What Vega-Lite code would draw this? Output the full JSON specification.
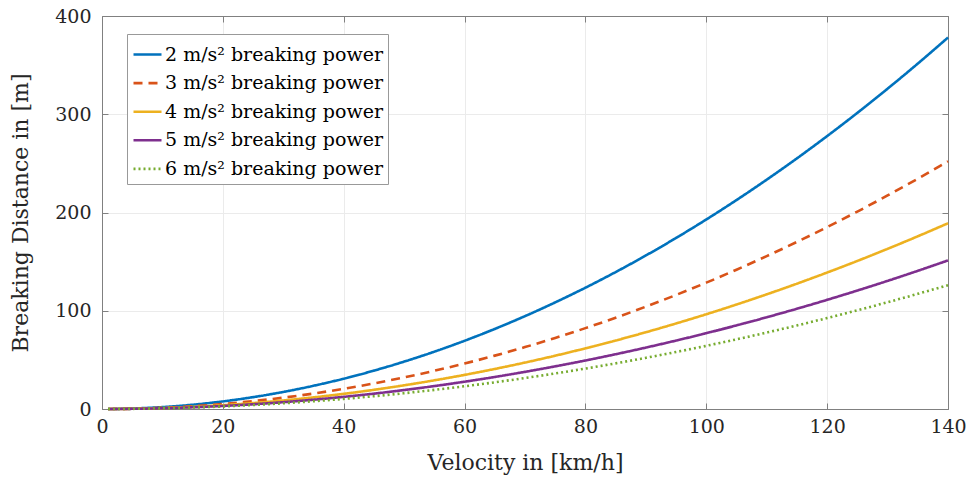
{
  "$schema": "https://vega.github.io/schema/vega-lite/v6.json",
  "autosize": {"type": "none"},
  "width": 846,
  "height": 393,
  "padding": {"left": 102, "top": 16, "right": 23, "bottom": 70},
  "background": "white",
  "config": {
    "font": "DejaVu Serif",
    "view": {"stroke": "#808080", "strokeWidth": 1},
    "axis": {
      "labelFont": "DejaVu Serif",
      "titleFont": "DejaVu Serif",
      "labelFontSize": 19,
      "titleFontSize": 22,
      "titleFontWeight": "normal",
      "labelColor": "#262626",
      "titleColor": "#262626",
      "domainColor": "#808080",
      "tickColor": "#808080",
      "gridColor": "#ebebeb",
      "tickSize": -6,
      "labelFlush": false
    }
  },
  "data": {
    "values": [
      {"v": 1, "2 m/s² breaking power": 0.019, "3 m/s² breaking power": 0.013, "4 m/s² breaking power": 0.010, "5 m/s² breaking power": 0.008, "6 m/s² breaking power": 0.006},
      {"v": 5, "2 m/s² breaking power": 0.48, "3 m/s² breaking power": 0.32, "4 m/s² breaking power": 0.24, "5 m/s² breaking power": 0.19, "6 m/s² breaking power": 0.16},
      {"v": 10, "2 m/s² breaking power": 1.93, "3 m/s² breaking power": 1.29, "4 m/s² breaking power": 0.96, "5 m/s² breaking power": 0.77, "6 m/s² breaking power": 0.64},
      {"v": 15, "2 m/s² breaking power": 4.34, "3 m/s² breaking power": 2.89, "4 m/s² breaking power": 2.17, "5 m/s² breaking power": 1.74, "6 m/s² breaking power": 1.45},
      {"v": 20, "2 m/s² breaking power": 7.72, "3 m/s² breaking power": 5.14, "4 m/s² breaking power": 3.86, "5 m/s² breaking power": 3.09, "6 m/s² breaking power": 2.57},
      {"v": 25, "2 m/s² breaking power": 12.06, "3 m/s² breaking power": 8.04, "4 m/s² breaking power": 6.03, "5 m/s² breaking power": 4.82, "6 m/s² breaking power": 4.02},
      {"v": 30, "2 m/s² breaking power": 17.36, "3 m/s² breaking power": 11.57, "4 m/s² breaking power": 8.68, "5 m/s² breaking power": 6.94, "6 m/s² breaking power": 5.79},
      {"v": 35, "2 m/s² breaking power": 23.63, "3 m/s² breaking power": 15.75, "4 m/s² breaking power": 11.82, "5 m/s² breaking power": 9.45, "6 m/s² breaking power": 7.88},
      {"v": 40, "2 m/s² breaking power": 30.86, "3 m/s² breaking power": 20.58, "4 m/s² breaking power": 15.43, "5 m/s² breaking power": 12.35, "6 m/s² breaking power": 10.29},
      {"v": 45, "2 m/s² breaking power": 39.06, "3 m/s² breaking power": 26.04, "4 m/s² breaking power": 19.53, "5 m/s² breaking power": 15.63, "6 m/s² breaking power": 13.02},
      {"v": 50, "2 m/s² breaking power": 48.23, "3 m/s² breaking power": 32.15, "4 m/s² breaking power": 24.11, "5 m/s² breaking power": 19.29, "6 m/s² breaking power": 16.08},
      {"v": 55, "2 m/s² breaking power": 58.35, "3 m/s² breaking power": 38.90, "4 m/s² breaking power": 29.18, "5 m/s² breaking power": 23.34, "6 m/s² breaking power": 19.45},
      {"v": 60, "2 m/s² breaking power": 69.44, "3 m/s² breaking power": 46.30, "4 m/s² breaking power": 34.72, "5 m/s² breaking power": 27.78, "6 m/s² breaking power": 23.15},
      {"v": 65, "2 m/s² breaking power": 81.50, "3 m/s² breaking power": 54.33, "4 m/s² breaking power": 40.75, "5 m/s² breaking power": 32.60, "6 m/s² breaking power": 27.17},
      {"v": 70, "2 m/s² breaking power": 94.52, "3 m/s² breaking power": 63.01, "4 m/s² breaking power": 47.26, "5 m/s² breaking power": 37.81, "6 m/s² breaking power": 31.51},
      {"v": 75, "2 m/s² breaking power": 108.51, "3 m/s² breaking power": 72.34, "4 m/s² breaking power": 54.25, "5 m/s² breaking power": 43.40, "6 m/s² breaking power": 36.17},
      {"v": 80, "2 m/s² breaking power": 123.46, "3 m/s² breaking power": 82.30, "4 m/s² breaking power": 61.73, "5 m/s² breaking power": 49.38, "6 m/s² breaking power": 41.15},
      {"v": 85, "2 m/s² breaking power": 139.37, "3 m/s² breaking power": 92.91, "4 m/s² breaking power": 69.69, "5 m/s² breaking power": 55.75, "6 m/s² breaking power": 46.46},
      {"v": 90, "2 m/s² breaking power": 156.25, "3 m/s² breaking power": 104.17, "4 m/s² breaking power": 78.13, "5 m/s² breaking power": 62.50, "6 m/s² breaking power": 52.08},
      {"v": 95, "2 m/s² breaking power": 174.09, "3 m/s² breaking power": 116.06, "4 m/s² breaking power": 87.05, "5 m/s² breaking power": 69.64, "6 m/s² breaking power": 58.03},
      {"v": 100, "2 m/s² breaking power": 192.90, "3 m/s² breaking power": 128.60, "4 m/s² breaking power": 96.45, "5 m/s² breaking power": 77.16, "6 m/s² breaking power": 64.30},
      {"v": 105, "2 m/s² breaking power": 212.67, "3 m/s² breaking power": 141.78, "4 m/s² breaking power": 106.34, "5 m/s² breaking power": 85.07, "6 m/s² breaking power": 70.89},
      {"v": 110, "2 m/s² breaking power": 233.41, "3 m/s² breaking power": 155.61, "4 m/s² breaking power": 116.71, "5 m/s² breaking power": 93.36, "6 m/s² breaking power": 77.80},
      {"v": 115, "2 m/s² breaking power": 255.11, "3 m/s² breaking power": 170.07, "4 m/s² breaking power": 127.56, "5 m/s² breaking power": 102.04, "6 m/s² breaking power": 85.04},
      {"v": 120, "2 m/s² breaking power": 277.78, "3 m/s² breaking power": 185.19, "4 m/s² breaking power": 138.89, "5 m/s² breaking power": 111.11, "6 m/s² breaking power": 92.59},
      {"v": 125, "2 m/s² breaking power": 301.41, "3 m/s² breaking power": 200.94, "4 m/s² breaking power": 150.70, "5 m/s² breaking power": 120.56, "6 m/s² breaking power": 100.47},
      {"v": 130, "2 m/s² breaking power": 326.00, "3 m/s² breaking power": 217.34, "4 m/s² breaking power": 163.00, "5 m/s² breaking power": 130.40, "6 m/s² breaking power": 108.67},
      {"v": 135, "2 m/s² breaking power": 351.56, "3 m/s² breaking power": 234.38, "4 m/s² breaking power": 175.78, "5 m/s² breaking power": 140.63, "6 m/s² breaking power": 117.19},
      {"v": 140, "2 m/s² breaking power": 378.09, "3 m/s² breaking power": 252.06, "4 m/s² breaking power": 189.04, "5 m/s² breaking power": 151.23, "6 m/s² breaking power": 126.03}
    ]
  },
  "transform": [
    {"fold": ["2 m/s² breaking power", "3 m/s² breaking power", "4 m/s² breaking power", "5 m/s² breaking power", "6 m/s² breaking power"], "as": ["series", "d"]}
  ],
  "layer": [
    {
      "mark": {"type": "line", "strokeWidth": 2.6, "interpolate": "monotone"},
      "encoding": {
        "x": {"field": "v", "type": "quantitative", "scale": {"domain": [0, 140], "nice": false, "zero": false},
          "axis": {"values": [0, 20, 40, 60, 80, 100, 120, 140], "title": "Velocity in [km/h]", "labelPadding": 14, "titlePadding": 16}},
        "y": {"field": "d", "type": "quantitative", "scale": {"domain": [0, 400], "nice": false, "zero": false},
          "axis": {"values": [0, 100, 200, 300, 400], "title": "Breaking Distance in [m]", "labelPadding": 17, "titlePadding": 22}},
        "color": {"field": "series", "type": "nominal",
          "scale": {"domain": ["2 m/s² breaking power", "3 m/s² breaking power", "4 m/s² breaking power", "5 m/s² breaking power", "6 m/s² breaking power"],
                    "range": ["#0072BD", "#D95319", "#EDB120", "#7E2F8E", "#77AC30"]},
          "legend": {"title": null, "orient": "none", "legendX": 25, "legendY": 18,
            "symbolType": "stroke", "symbolSize": 784, "symbolStrokeWidth": 2.6,
            "labelFont": "DejaVu Serif", "labelFontSize": 19, "labelColor": "#000000", "labelOffset": 2,
            "rowPadding": 2.6, "strokeColor": "#999999", "fillColor": "white", "padding": 5, "labelLimit": 400}},
        "strokeDash": {"field": "series", "type": "nominal",
          "scale": {"domain": ["2 m/s² breaking power", "3 m/s² breaking power", "4 m/s² breaking power", "5 m/s² breaking power", "6 m/s² breaking power"],
                    "range": [[1, 0], [9, 6], [1, 0], [1, 0], [2, 3]]},
          "legend": {"title": null, "orient": "none", "legendX": 25, "legendY": 18,
            "symbolType": "stroke", "symbolSize": 784, "symbolStrokeWidth": 2.6,
            "labelFont": "DejaVu Serif", "labelFontSize": 19, "labelColor": "#000000", "labelOffset": 2,
            "rowPadding": 2.6, "strokeColor": "#999999", "fillColor": "white", "padding": 5, "labelLimit": 400}}
      }
    },
    {
      "mark": {"type": "line", "opacity": 0},
      "encoding": {
        "x": {"field": "v", "type": "quantitative", "scale": {"domain": [0, 140], "nice": false, "zero": false},
          "axis": {"orient": "top", "values": [0, 20, 40, 60, 80, 100, 120, 140], "labels": false, "title": null, "grid": false}},
        "y": {"field": "d", "type": "quantitative", "scale": {"domain": [0, 400], "nice": false, "zero": false},
          "axis": {"orient": "right", "values": [0, 100, 200, 300, 400], "labels": false, "title": null, "grid": false}},
        "detail": {"field": "series"}
      }
    }
  ],
  "resolve": {"axis": {"x": "independent", "y": "independent"}}
}
